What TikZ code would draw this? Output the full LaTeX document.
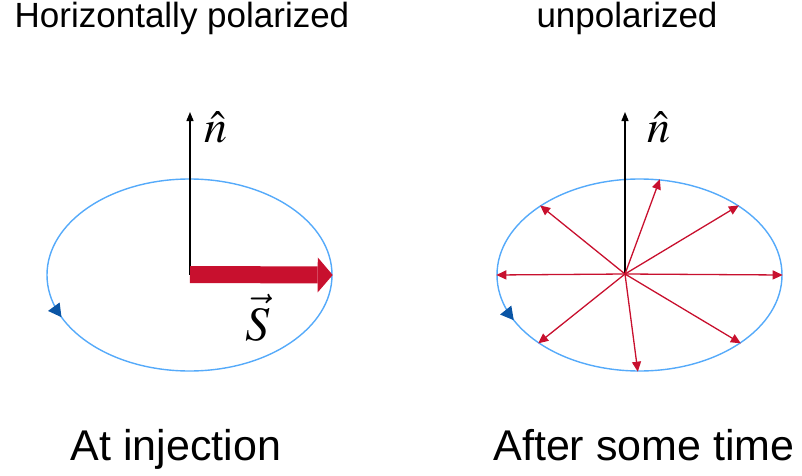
\documentclass[tikz,border=0pt]{standalone}
\usepackage{mathptmx}
\usepackage{fix-cm}
\usepackage{fontspec}
\setmainfont{Liberation Sans}
\usetikzlibrary{arrows.meta,positioning,shapes.geometric,decorations.markings}
\definecolor{orbitblue}{RGB}{85,170,250}
\definecolor{tipblue}{RGB}{10,85,165}
\definecolor{spinred}{RGB}{200,16,46}

\begin{document}
\begin{tikzpicture}[x=1pt, y=1pt,
    orbit/.style={ellipse, draw=orbitblue, line width=1.4pt, inner sep=0pt,
        minimum width=285pt, minimum height=192pt, postaction={decorate},
        decoration={markings, mark=at position #1 with {\arrow[tipblue]{Triangle[length=13pt,width=14pt]}}}},
    axis/.style={-{Triangle[length=9pt,width=7pt]}, line width=1.3pt, black},
    spin/.style={-{Triangle[length=10pt,width=9pt]}, line width=1.3pt, spinred},
    bigspin/.style={-{Triangle[length=15pt,width=35pt,line width=0pt]}, line width=17pt, spinred},
    nhat/.style={font=\fontsize{46}{54}\selectfont, inner sep=0pt},
    svec/.style={font=\fontsize{48}{56}\selectfont, inner sep=0pt, anchor=base},
    title/.style={font=\fontsize{35}{42}\selectfont, anchor=base},
    caption/.style={font=\fontsize{43}{52}\selectfont, anchor=base}]
    \useasboundingbox (0,0) rectangle (802,475);

    % Left: at injection
    \node[orbit=0.56] (orbL) at (189.5,200) {};
    \coordinate (oL) at (190,200.5);
    \coordinate (nL) at (190,363);
    \draw[axis] (oL) -- (nL);
    \draw[bigspin] (oL) -- (orbL.east);
    \node[nhat, below right=0pt and 14pt of nL] (nhatL) {$\hat{n}$};
    \node[svec] (sL) at (258,135) {$\vec{S}$};
    \node[title] (titleL) at (182,447) {Horizontally polarized};
    \node[caption] (capL) at (176,15) {At injection};

    % Right: after some time
    \node[orbit=0.565] (orbR) at (639.5,200) {};
    \coordinate (oR) at (625,201);
    \coordinate (nR) at (625,363);
    \draw[axis] (oR) -- (nR);
    \foreach \a in {0,35,78,145,180,214,269,326}
        \draw[spin] (oR) -- (orbR.\a);
    \node[nhat, below right=0pt and 22pt of nR] (nhatR) {$\hat{n}$};
    \node[title] (titleR) at (627,447) {unpolarized};
    \node[caption] (capR) at (644,15) {After some time};
\end{tikzpicture}
\end{document}
